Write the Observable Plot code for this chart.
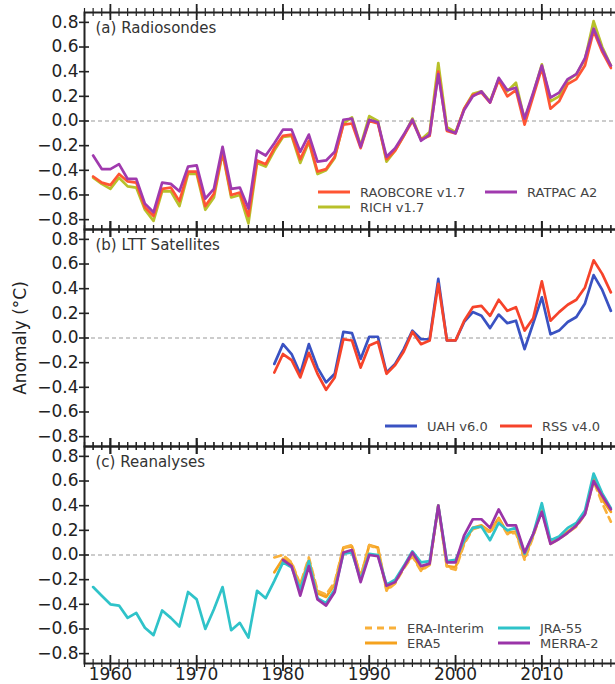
<!DOCTYPE html>
<html><head><meta charset="utf-8">
<script src="https://cdn.jsdelivr.net/npm/d3@7"></script>
<script src="https://cdn.jsdelivr.net/npm/@observablehq/plot@0.6"></script>
<style>
html,body{margin:0;padding:0;background:#fff;overflow:hidden;}
#chart{position:relative;width:615px;height:684px;overflow:hidden;font-family:"DejaVu Sans",sans-serif;background:#fff;}
.panel{position:absolute;left:0;}
.lg{position:absolute;display:flex;align-items:center;font-size:13px;color:#444;white-space:nowrap;height:16px;}
.lg svg{margin-right:10px;}
#ylab{position:absolute;left:20px;top:338px;transform:translate(-50%,-50%) rotate(-90deg);font-size:17px;color:#222;white-space:nowrap;}
</style></head><body><div id="chart"></div><script>
// ---------------- data ----------------
const startRadiosonde = 1958;
const raobcore = [-0.45,-0.50,-0.52,-0.43,-0.49,-0.50,-0.70,-0.77,-0.55,-0.54,-0.65,-0.41,-0.41,-0.69,-0.59,-0.25,-0.60,-0.58,-0.77,-0.32,-0.35,-0.22,-0.12,-0.11,-0.31,-0.16,-0.41,-0.39,-0.29,-0.03,-0.02,-0.22,0.00,-0.02,-0.31,-0.24,-0.12,0.00,-0.15,-0.12,0.40,-0.08,-0.10,0.10,0.21,0.23,0.15,0.33,0.20,0.25,-0.03,0.20,0.43,0.10,0.16,0.30,0.34,0.45,0.73,0.56,0.43];
const rich = [-0.46,-0.51,-0.55,-0.46,-0.53,-0.54,-0.72,-0.81,-0.57,-0.57,-0.69,-0.43,-0.43,-0.72,-0.62,-0.26,-0.62,-0.60,-0.83,-0.34,-0.37,-0.24,-0.13,-0.12,-0.34,-0.17,-0.43,-0.40,-0.30,-0.02,0.03,-0.20,0.04,0.00,-0.33,-0.24,-0.12,0.02,-0.15,-0.09,0.47,-0.05,-0.09,0.10,0.22,0.24,0.16,0.34,0.24,0.31,0.01,0.22,0.46,0.16,0.20,0.33,0.38,0.50,0.81,0.60,0.45];
const ratpac = [-0.28,-0.39,-0.39,-0.35,-0.47,-0.47,-0.67,-0.74,-0.50,-0.51,-0.57,-0.37,-0.36,-0.63,-0.55,-0.21,-0.55,-0.54,-0.71,-0.24,-0.28,-0.18,-0.07,-0.07,-0.25,-0.11,-0.33,-0.32,-0.25,0.01,0.02,-0.21,0.01,-0.01,-0.29,-0.22,-0.11,0.01,-0.16,-0.11,0.38,-0.07,-0.10,0.09,0.20,0.24,0.15,0.35,0.25,0.27,0.02,0.23,0.45,0.19,0.23,0.34,0.38,0.51,0.75,0.58,0.45];

const startSatellite = 1979;
const uah = [-0.21,-0.05,-0.13,-0.29,-0.05,-0.24,-0.36,-0.29,0.05,0.04,-0.17,0.01,0.01,-0.28,-0.21,-0.09,0.06,-0.01,-0.01,0.48,-0.02,-0.02,0.13,0.21,0.18,0.08,0.19,0.12,0.14,-0.09,0.12,0.33,0.03,0.06,0.13,0.17,0.28,0.51,0.39,0.22];
const rss = [-0.28,-0.13,-0.18,-0.32,-0.12,-0.29,-0.42,-0.32,-0.01,-0.02,-0.24,-0.06,-0.03,-0.29,-0.22,-0.11,0.05,-0.05,-0.02,0.44,-0.02,-0.02,0.14,0.25,0.26,0.18,0.31,0.22,0.25,0.06,0.16,0.46,0.14,0.21,0.27,0.31,0.41,0.63,0.52,0.37];

const startJRA = 1958;
const jra55 = [-0.26,-0.33,-0.40,-0.41,-0.51,-0.47,-0.59,-0.65,-0.45,-0.51,-0.58,-0.30,-0.36,-0.60,-0.44,-0.26,-0.61,-0.55,-0.67,-0.29,-0.35,-0.21,-0.06,-0.10,-0.28,-0.05,-0.35,-0.39,-0.28,0.01,0.02,-0.20,0.01,0.00,-0.24,-0.20,-0.09,0.03,-0.06,-0.05,0.40,-0.05,-0.04,0.12,0.22,0.23,0.12,0.26,0.20,0.22,0.01,0.17,0.42,0.12,0.15,0.22,0.26,0.36,0.66,0.50,0.38];
const startERA = 1979;
const eraInterim = [-0.02,0.00,-0.06,-0.24,-0.02,-0.29,-0.32,-0.22,0.06,0.08,-0.18,0.08,0.05,-0.29,-0.23,-0.11,-0.01,-0.13,-0.08,0.40,-0.10,-0.12,0.09,0.21,0.23,0.18,0.29,0.17,0.18,-0.04,0.15,0.37,0.09,0.13,0.18,0.23,0.33,0.60,0.42,0.27];
const era5 = [-0.14,-0.03,-0.07,-0.25,-0.04,-0.31,-0.34,-0.24,0.06,0.07,-0.18,0.08,0.06,-0.28,-0.22,-0.10,0.00,-0.12,-0.07,0.40,-0.09,-0.10,0.10,0.22,0.24,0.19,0.30,0.18,0.19,-0.02,0.16,0.38,0.10,0.14,0.19,0.24,0.34,0.62,0.45,0.35];
const startMERRA = 1980;
const merra2 = [-0.04,-0.09,-0.33,-0.09,-0.36,-0.41,-0.30,0.02,0.04,-0.22,0.00,-0.01,-0.25,-0.22,-0.10,0.02,-0.09,-0.07,0.40,-0.06,-0.06,0.16,0.29,0.29,0.22,0.37,0.24,0.24,0.02,0.17,0.35,0.09,0.13,0.18,0.24,0.33,0.60,0.48,0.37];

const yTicks = [-0.8,-0.6,-0.4,-0.2,0.0,0.2,0.4,0.6,0.8];
const xTickLabels = [1960,1970,1980,1990,2000,2010];
const panelLabels = ["(a) Radiosondes","(b) LTT Satellites","(c) Reanalyses"];

// ---------------- layout ----------------
const W = 622, ML = 84, MR = 3, INNER = 217;
const xDomain = [1957, 2019];
const yDomain = [-0.88, 0.88];
const minorYears = d3.range(xDomain[0], xDomain[1] + 1);
const majorYears = minorYears.filter(y => y % 10 === 0);

function rows(name, start, values) {
  return values.map((v, i) => ({year: start + i, value: v, series: name}));
}

function axisTicks() {
  const s = {stroke: "#222"};
  return [
    Plot.ruleX(minorYears, {x: d => d, y1: yDomain[0], y2: yDomain[0], insetTop: -4, insetBottom: -4, strokeWidth: 1.2, ...s}),
    Plot.ruleX(minorYears, {x: d => d, y1: yDomain[1], y2: yDomain[1], insetTop: -4, insetBottom: -4, strokeWidth: 1.2, ...s}),
    Plot.ruleX(majorYears, {x: d => d, y1: yDomain[0], y2: yDomain[0], insetTop: -8, insetBottom: -8, strokeWidth: 1.8, ...s}),
    Plot.ruleX(majorYears, {x: d => d, y1: yDomain[1], y2: yDomain[1], insetTop: -8, insetBottom: -8, strokeWidth: 1.8, ...s}),
    Plot.ruleY(yTicks, {y: d => d, x1: xDomain[0], x2: xDomain[0], insetLeft: -5, insetRight: -5, strokeWidth: 1.6, ...s})
  ];
}

function panel({top, marginTop, marginBottom, showX, lines, label}) {
  const p = Plot.plot({
    width: W, height: marginTop + INNER + marginBottom,
    marginLeft: ML, marginRight: MR, marginTop, marginBottom,
    style: {background: "transparent", maxWidth: "none", overflow: "visible", fontSize: "17px", fontFamily: "DejaVu Sans, sans-serif", color: "#222"},
    x: showX ? {domain: xDomain, ticks: xTickLabels, tickFormat: "d", tickSize: 0, tickPadding: 4, label: null}
             : {domain: xDomain, axis: null},
    y: {domain: yDomain, ticks: yTicks, tickFormat: ".1f", tickSize: 0, tickPadding: 6, label: null},
    marks: [
      Plot.ruleY([0], {stroke: "#999", strokeWidth: 1, strokeDasharray: "4,3"}),
      ...lines.map(l => Plot.line(l.data, {x: "year", y: "value", stroke: l.color, strokeWidth: 2.7, strokeDasharray: l.dash || null})),
      Plot.frame({stroke: "#222", strokeWidth: 2}),
      ...axisTicks(),
      Plot.text([label], {text: d => d, frameAnchor: "top-left", dx: 11, dy: 10, fontSize: 15, fill: "#333", textAnchor: "start"})
    ]
  });
  p.classList.add("panel");
  p.style.top = top + "px";
  return p;
}

const C = {
  raobcore: "#ff5533", rich: "#b8c02a", ratpac: "#a03aae",
  uah: "#3a52c2", rss: "#f6432a",
  eraI: "#f9b03a", era5: "#f5a21e", jra: "#2fc3c9", merra: "#9a34a8"
};

const seriesA = [
  {name: "RICH v1.7", color: C.rich, data: rows("RICH v1.7", startRadiosonde, rich)},
  {name: "RAOBCORE v1.7", color: C.raobcore, data: rows("RAOBCORE v1.7", startRadiosonde, raobcore)},
  {name: "RATPAC A2", color: C.ratpac, data: rows("RATPAC A2", startRadiosonde, ratpac)}
];
const seriesB = [
  {name: "UAH v6.0", color: C.uah, data: rows("UAH v6.0", startSatellite, uah)},
  {name: "RSS v4.0", color: C.rss, data: rows("RSS v4.0", startSatellite, rss)}
];
const seriesC = [
  {name: "ERA5", color: C.era5, data: rows("ERA5", startERA, era5)},
  {name: "ERA-Interim", color: C.eraI, dash: "7,5", data: rows("ERA-Interim", startERA, eraInterim)},
  {name: "JRA-55", color: C.jra, data: rows("JRA-55", startJRA, jra55)},
  {name: "MERRA-2", color: C.merra, data: rows("MERRA-2", startMERRA, merra2)}
];

const chart = document.getElementById("chart");
chart.append(panel({top: 0, marginTop: 12, marginBottom: 10, showX: false, lines: seriesA, label: panelLabels[0]}));
chart.append(panel({top: 219, marginTop: 10, marginBottom: 10, showX: false, lines: seriesB, label: panelLabels[1]}));
chart.append(panel({top: 436, marginTop: 10, marginBottom: 40, showX: true, lines: seriesC, label: panelLabels[2]}));

// y label
const yl = document.createElement("div");
yl.id = "ylab"; yl.textContent = "Anomaly (°C)";
chart.append(yl);

// legends (matplotlib-style, 2 columns, column-major)
function legend(entries, left, centerY, colW, rowH, ncol) {
  const nrow = Math.ceil(entries.length / ncol);
  entries.forEach((e, i) => {
    const col = Math.floor(i / nrow), row = i % nrow;
    const d = document.createElement("div");
    d.className = "lg";
    d.style.left = (left + col * colW) + "px";
    d.style.top = (centerY + row * rowH - 8) + "px";
    d.innerHTML = `<svg width="32" height="6"><line x1="0" x2="32" y1="3" y2="3" stroke="${e.color}" stroke-width="3" ${e.dash ? `stroke-dasharray="${e.dash}"` : ""}/></svg><span>${e.name}</span>`;
    chart.append(d);
  });
}
const byName = (arr, names) => names.map(n => arr.find(s => s.name === n));
legend(byName(seriesA, ["RAOBCORE v1.7", "RICH v1.7", "RATPAC A2"]), 318, 192, 167, 15, 2);
legend(byName(seriesB, ["UAH v6.0", "RSS v4.0"]), 385, 426, 115, 15, 2);
legend(byName(seriesC, ["ERA-Interim", "ERA5", "JRA-55", "MERRA-2"]), 365, 628, 133, 15, 2);
</script></body></html>
